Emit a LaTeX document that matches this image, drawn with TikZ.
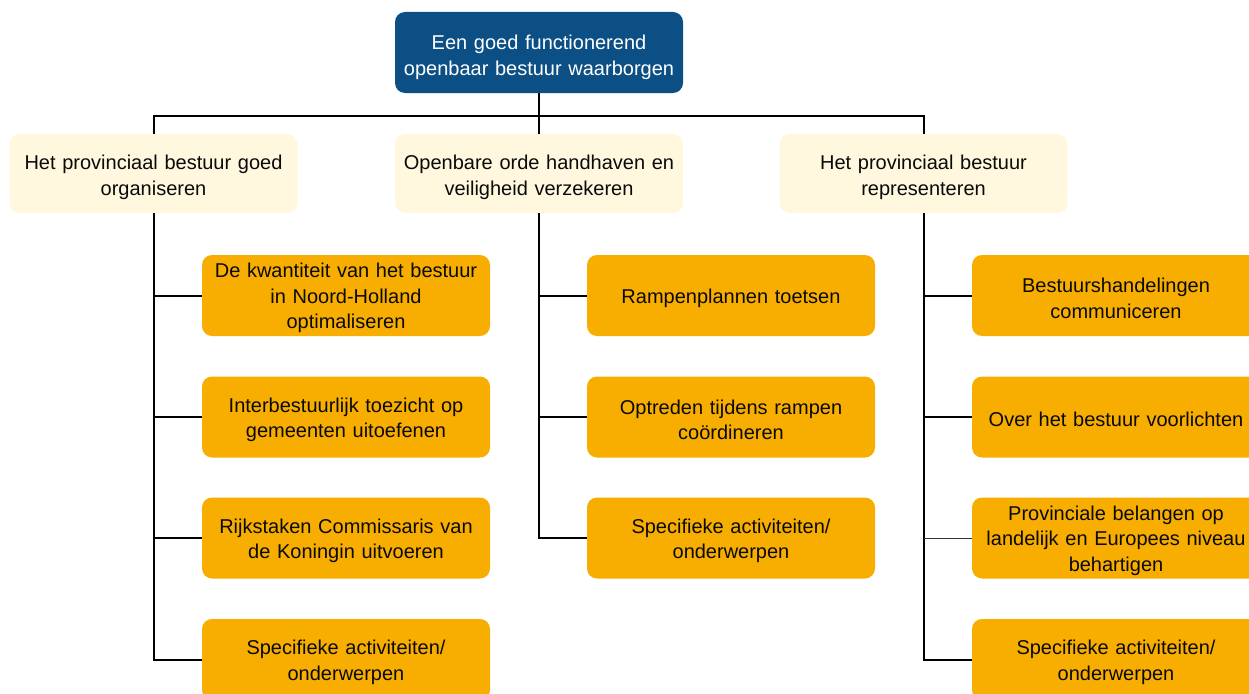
\documentclass[tikz,border=0pt]{standalone}
\usepackage{fontspec}
\setmainfont{Liberation Sans}
\definecolor{topblue}{RGB}{12,79,132}
\definecolor{cream}{RGB}{255,248,222}
\definecolor{orangebox}{RGB}{248,174,0}
\definecolor{txt}{RGB}{10,10,10}
\begin{document}
\begin{tikzpicture}[x=1pt,y=-1pt,
  box/.style={rounded corners=10pt, minimum width=288pt, minimum height=81pt, inner sep=1pt, align=center, text width=286pt, font=\fontsize{20}{25.5}\selectfont, draw=none},
  topbox/.style={box, fill=topblue, text=white, execute at begin node={\rule{0pt}{24.6pt}}},
  midbox/.style={box, fill=cream, minimum height=79pt, text=txt, execute at begin node={\rule{0pt}{22.6pt}}},
  leafbox/.style={box, fill=orangebox, text=txt, execute at begin node={\rule{0pt}{19.8pt}}},
  conn/.style={line width=2pt, draw=black},
  thin/.style={line width=1pt, draw=black!80}]
\useasboundingbox (0,0) rectangle (1249,693);
\clip (0,0) rectangle (1249,693);
\node[topbox] (top) at (539,52.5) {Een goed functionerend\\openbaar bestuur waarborgen};
\node[midbox] (l1) at (153.5,173.5) {Het provinciaal bestuur goed\\organiseren};
\node[midbox] (m1) at (539,173.5) {Openbare orde handhaven en\\veiligheid verzekeren};
\node[midbox] (r1) at (923.5,173.5) {Het provinciaal bestuur\\representeren};
\coordinate (bus) at (539,116);
% left column
\node[leafbox] (la1) at (346,295.5) {De kwantiteit van het bestuur\\in Noord-Holland\\optimaliseren};
\node[leafbox] (la2) at (346,417) {Interbestuurlijk toezicht op\\gemeenten uitoefenen};
\node[leafbox] (la3) at (346,538) {Rijkstaken Commissaris van\\de Koningin uitvoeren};
\node[leafbox] (la4) at (346,659.5) {Specifieke activiteiten/\\onderwerpen};
% middle column
\node[leafbox] (ma1) at (731,295.5) {Rampenplannen toetsen};
\node[leafbox] (ma2) at (731,417) {Optreden tijdens rampen\\coördineren};
\node[leafbox] (ma3) at (731,538) {Specifieke activiteiten/\\onderwerpen};
% right column
\node[leafbox] (ra1) at (1116,295.5) {Bestuurshandelingen\\communiceren};
\node[leafbox] (ra2) at (1116,417) {Over het bestuur voorlichten};
\node[leafbox] (ra3) at (1116,538) {Provinciale belangen op\\landelijk en Europees niveau\\behartigen};
\node[leafbox] (ra4) at (1116,659.5) {Specifieke activiteiten/\\onderwerpen};
% connectors
\draw[conn] (top.south) -- (m1.north);
\draw[conn] (l1.north) |- (bus) -| (r1.north);
\draw[conn] (l1.south) |- (la4.west);
\draw[conn] (l1.south |- la1.west) -- (la1.west);
\draw[conn] (l1.south |- la2.west) -- (la2.west);
\draw[conn] (l1.south |- la3.west) -- (la3.west);
\draw[conn] (m1.south) |- (ma3.west);
\draw[conn] (m1.south |- ma1.west) -- (ma1.west);
\draw[conn] (m1.south |- ma2.west) -- (ma2.west);
\draw[conn] (r1.south) |- (ra4.west);
\draw[conn] (r1.south |- ra1.west) -- (ra1.west);
\draw[conn] (r1.south |- ra2.west) -- (ra2.west);
\draw[thin] (r1.south |- ra3.west) -- (ra3.west);
\end{tikzpicture}
\end{document}
